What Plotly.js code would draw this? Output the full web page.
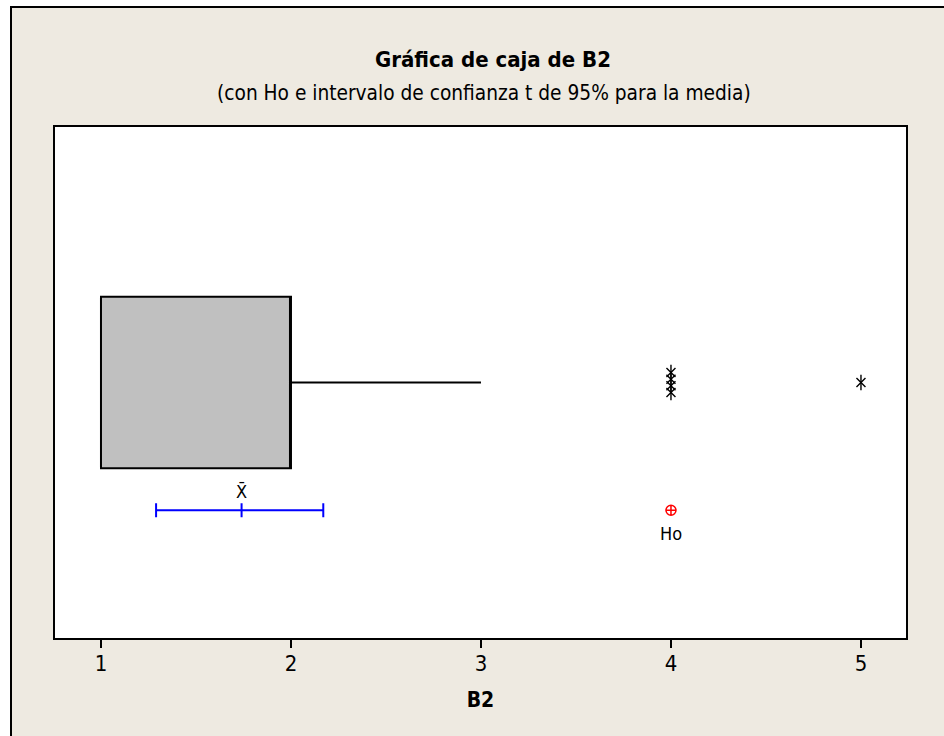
<!DOCTYPE html>
<html>
<head>
<meta charset="utf-8">
<script src="https://cdn.plot.ly/plotly-3.0.1.min.js"></script>
<style>html,body{margin:0;padding:0;background:#fff;}#chart{width:944px;height:736px;}</style>
</head>
<body>
<div id="chart"></div>
<script>
// ---- data ----
var boxQ1 = 1;
var boxMedian = 2;
var boxQ3 = 2;
var whiskerLow = 1;
var whiskerHigh = 3;
var outlierValues = [4, 4, 4, 4, 5];
var sampleMean = 1.74;
var ciLower = 1.29;
var ciUpper = 2.17;
var hypothesizedMean = 4;
var xTicks = [1, 2, 3, 4, 5];
var titleText = 'Gráfica de caja de B2';
var subtitleText = '(con Ho e intervalo de confianza t de 95% para la media)';
var axisTitle = 'B2';

var FONT = '"DejaVu Sans Condensed", "DejaVu Sans", sans-serif';
var boxPos = 0.5, ciPos = 0.25, stackStep = 0.013;

// stack tied outliers vertically (Minitab style)
var counts = {};
outlierValues.forEach(function (v) { counts[v] = (counts[v] || 0) + 1; });
var seen = {};
var outX = [], outY = [];
outlierValues.forEach(function (v) {
  var i = seen[v] || 0; seen[v] = i + 1;
  outX.push(v);
  outY.push(boxPos + (i - (counts[v] - 1) / 2) * stackStep);
});

var traces = [
  {
    type: 'box', orientation: 'h', y: [boxPos],
    q1: [boxQ1], median: [boxMedian], q3: [boxQ3],
    lowerfence: [whiskerLow], upperfence: [whiskerHigh],
    width: 0.336, whiskerwidth: 0, boxpoints: false,
    fillcolor: '#C0C0C0', line: {color: '#000', width: 2},
    hoverinfo: 'skip', showlegend: false
  },
  {
    type: 'scatter', mode: 'markers', x: outX, y: outY,
    marker: {symbol: 'x-thin-open', size: 9, color: '#000', line: {color: '#000', width: 1.4}},
    hoverinfo: 'skip', showlegend: false
  },
  {
    type: 'scatter', mode: 'markers', x: outX, y: outY,
    marker: {symbol: 'line-ns-open', size: 11, color: '#000', line: {color: '#000', width: 1.4}},
    hoverinfo: 'skip', showlegend: false
  },
  {
    type: 'scatter', mode: 'markers', x: [sampleMean], y: [ciPos],
    error_x: {type: 'data', symmetric: false,
      array: [ciUpper - sampleMean], arrayminus: [sampleMean - ciLower],
      color: '#0000FF', thickness: 2, width: 7},
    marker: {symbol: 'line-ns-open', size: 10, color: '#0000FF', line: {color: '#0000FF', width: 2}},
    hoverinfo: 'skip', showlegend: false
  },
  {
    type: 'scatter', mode: 'markers', x: [hypothesizedMean], y: [ciPos],
    marker: {symbol: 'circle-cross-open', size: 10, color: '#FF0000', line: {color: '#FF0000', width: 1.5}},
    hoverinfo: 'skip', showlegend: false
  }
];

var layout = {
  width: 944, height: 736,
  margin: {l: 55, r: 38, t: 127, b: 98},
  paper_bgcolor: '#FFFFFF', plot_bgcolor: '#FFFFFF',
  font: {family: FONT, color: '#000'},
  showlegend: false,
  xaxis: {
    range: [0.758, 5.237], tickvals: xTicks, ticktext: xTicks.map(String),
    ticks: 'outside', ticklen: 8, tickwidth: 2, tickcolor: '#000',
    tickfont: {size: 22, family: FONT, color: '#000'},
    ticklabelstandoff: -3,
    showgrid: false, zeroline: false,
    showline: true, mirror: true, linecolor: '#000', linewidth: 2,
    title: {text: '<b>' + axisTitle + '</b>', font: {size: 21, family: FONT, color: '#000'}, standoff: 17}
  },
  yaxis: {
    range: [0, 1], showticklabels: false, ticks: '', showgrid: false, zeroline: false,
    showline: true, mirror: true, linecolor: '#000', linewidth: 2
  },
  shapes: [
    {type: 'rect', xref: 'paper', yref: 'paper', layer: 'below',
     x0: (11 - 55) / 851, x1: (960 - 55) / 851, y0: (638 - 760) / 511, y1: (638 - 7) / 511,
     fillcolor: '#EEEAE1', line: {color: '#000', width: 2}},
    {type: 'rect', xref: 'paper', yref: 'paper', layer: 'below',
     x0: 0, x1: 1, y0: 0, y1: 1,
     fillcolor: '#FFFFFF', line: {width: 0}}
  ],
  annotations: [
    {xref: 'paper', yref: 'paper', x: (493 - 55) / 851, y: (638 - 60) / 511,
     xanchor: 'center', yanchor: 'middle', showarrow: false,
     text: '<b>' + titleText + '</b>', font: {size: 22, family: FONT, color: '#000'}},
    {xref: 'paper', yref: 'paper', x: (484 - 55) / 851, y: (638 - 93) / 511,
     xanchor: 'center', yanchor: 'middle', showarrow: false,
     text: subtitleText, font: {size: 20.7, family: FONT, color: '#000'}},
    {xref: 'x', yref: 'y', x: sampleMean, y: ciPos, yshift: 19,
     xanchor: 'center', yanchor: 'middle', showarrow: false,
     text: 'X\u0304', font: {size: 18, family: FONT, color: '#000'}},
    {xref: 'x', yref: 'y', x: hypothesizedMean, y: ciPos, yshift: -23,
     xanchor: 'center', yanchor: 'middle', showarrow: false,
     text: 'Ho', font: {size: 18, family: FONT, color: '#000'}}
  ]
};

Plotly.newPlot('chart', traces, layout, {staticPlot: true, displayModeBar: false});
</script>
</body>
</html>
